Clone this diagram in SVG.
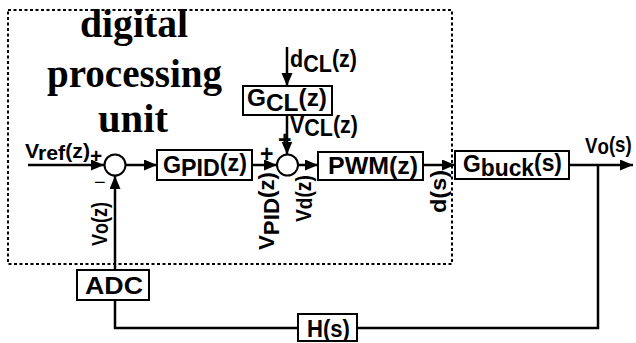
<svg xmlns="http://www.w3.org/2000/svg" width="636" height="343" viewBox="0 0 636 343">
<defs>
<style>
.box{fill:#fff;stroke:#000;stroke-width:2}
.ln{fill:none;stroke:#000;stroke-width:2.5}
.t{font-family:"Liberation Sans",Arial,sans-serif;font-weight:bold;font-size:23px;fill:#000}
.s{font-family:"Liberation Serif","Times New Roman",serif;font-weight:bold;font-size:40px;fill:#000}
.sum{fill:#fff;stroke:#000;stroke-width:2}
</style>
<marker id="arr" markerUnits="userSpaceOnUse" markerWidth="14" markerHeight="12" refX="13" refY="5.5" orient="auto">
<path d="M0,0 L13,5.5 L0,11 z" fill="#000"/>
</marker>
</defs>
<rect width="636" height="343" fill="#fff"/>
<g id="dpu">
<rect x="8" y="10" width="444" height="254" fill="none" stroke="#000" stroke-width="2" stroke-dasharray="3 2.5"/>
<text class="s" x="80" y="37" textLength="108" lengthAdjust="spacingAndGlyphs">digital</text>
<text class="s" x="47" y="87" textLength="175" lengthAdjust="spacingAndGlyphs">processing</text>
<text class="s" x="98" y="132" textLength="70" lengthAdjust="spacingAndGlyphs">unit</text>
</g>
<g id="connectors">
<line class="ln" x1="28" y1="165" x2="104" y2="165" marker-end="url(#arr)"/>
<line class="ln" x1="126" y1="165" x2="157" y2="165" marker-end="url(#arr)"/>
<line class="ln" x1="252" y1="165" x2="277" y2="165" marker-end="url(#arr)"/>
<line class="ln" x1="287" y1="47" x2="287" y2="86" marker-end="url(#arr)"/>
<line class="ln" x1="287" y1="115" x2="287" y2="154.5" marker-end="url(#arr)"/>
<line class="ln" x1="298" y1="165" x2="318" y2="165" marker-end="url(#arr)"/>
<line class="ln" x1="423" y1="165" x2="455" y2="165" marker-end="url(#arr)"/>
<line class="ln" x1="569" y1="165" x2="633" y2="165" marker-end="url(#arr)"/>
<polyline class="ln" points="598,165 598,328 357,328"/>
<polyline class="ln" points="298,328 115,328 115,300"/>
<line class="ln" x1="115" y1="270" x2="115" y2="176" marker-end="url(#arr)"/>
</g>
<g id="sum1">
<circle class="sum" cx="115" cy="165" r="10.5"/>
<text class="t" x="90" y="163" style="font-size:21px">+</text>
<text x="94" y="189" font-family="Liberation Sans,Arial,sans-serif" font-size="20">−</text>
</g>
<g id="sum2">
<circle class="sum" cx="287.5" cy="165" r="10.5"/>
<text class="t" x="260" y="162">+</text>
<text class="t" x="278" y="148">+</text>
</g>
<g id="vref">
<text class="t" x="25" y="158" style="font-size:21px" textLength="65" lengthAdjust="spacingAndGlyphs">V<tspan dy="2">ref</tspan><tspan dy="-2">(z)</tspan></text>
</g>
<g id="gpid">
<rect class="box" x="157" y="150" width="95" height="30"/>
<text class="t" x="163" y="173" textLength="84" lengthAdjust="spacingAndGlyphs">G<tspan dy="3">PID</tspan><tspan dy="-5">(z)</tspan></text>
</g>
<g id="dcl">
<text class="t" x="290" y="67" textLength="67" lengthAdjust="spacingAndGlyphs">d<tspan dy="5">CL</tspan><tspan dy="-5">(z)</tspan></text>
</g>
<g id="gcl">
<rect class="box" x="243" y="86" width="89" height="29"/>
<text class="t" x="247" y="106" textLength="80" lengthAdjust="spacingAndGlyphs">G<tspan dy="5">CL</tspan><tspan dy="-5">(z)</tspan></text>
</g>
<g id="vcl">
<text class="t" x="290" y="133" textLength="68" lengthAdjust="spacingAndGlyphs">V<tspan dy="3">CL</tspan><tspan dy="-3">(z)</tspan></text>
</g>
<g id="pwm">
<rect class="box" x="318" y="152" width="105" height="28"/>
<text class="t" x="328" y="174" textLength="90" lengthAdjust="spacingAndGlyphs">PWM(z)</text>
</g>
<g id="gbuck">
<rect class="box" x="455" y="151" width="114" height="28"/>
<text class="t" x="463" y="172" textLength="99" lengthAdjust="spacingAndGlyphs">G<tspan dy="4">buck</tspan><tspan dy="-5">(s)</tspan></text>
</g>
<g id="vos">
<text class="t" transform="translate(585,153) scale(0.85,1)" style="font-size:22px">V<tspan dy="1">o</tspan><tspan dy="-2">(s)</tspan></text>
</g>
<g id="adc">
<rect class="box" x="77" y="270" width="72" height="30"/>
<text class="t" x="85" y="294" textLength="58" lengthAdjust="spacingAndGlyphs">ADC</text>
</g>
<g id="hs">
<rect class="box" x="298" y="314" width="59" height="27"/>
<text class="t" x="307" y="337" textLength="43" lengthAdjust="spacingAndGlyphs">H(s)</text>
</g>
<g id="vlabels">
<text class="t" transform="translate(107,246) rotate(-90) scale(0.82,1)" style="font-size:22px">V<tspan dy="1">o</tspan><tspan dy="-1">(z)</tspan></text>
<text class="t" transform="translate(274,250) rotate(-90)" style="font-size:22px" textLength="78" lengthAdjust="spacingAndGlyphs">V<tspan dy="5">PID</tspan><tspan dy="-5">(z)</tspan></text>
<text class="t" transform="translate(311,222) rotate(-90) scale(0.87,1)" style="font-size:22px">V<tspan dy="1">d</tspan><tspan dy="-1">(z)</tspan></text>
<text class="t" transform="translate(446,213) rotate(-90)" style="font-size:22px" textLength="43" lengthAdjust="spacingAndGlyphs">d(s)</text>
</g>
</svg>
